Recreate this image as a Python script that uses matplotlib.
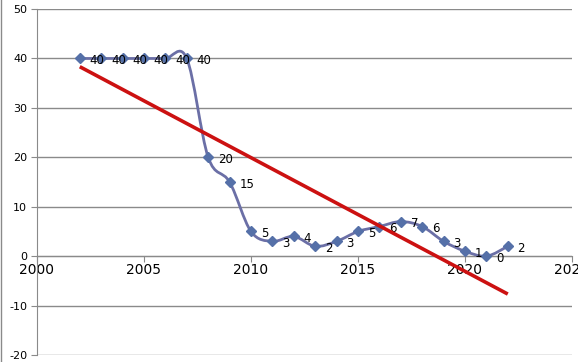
import numpy as np
import matplotlib
matplotlib.use("Agg")
import matplotlib.pyplot as plt
from matplotlib.path import Path
from matplotlib.patches import PathPatch
from matplotlib.lines import Line2D

# ==============================
# DATA
# ==============================
years = [2002, 2003, 2004, 2005, 2006, 2007, 2008, 2009, 2010, 2011, 2012,
         2013, 2014, 2015, 2016, 2017, 2018, 2019, 2020, 2021, 2022]
values = [40, 40, 40, 40, 40, 40, 20, 15, 5, 3, 4,
          2, 3, 5, 6, 7, 6, 3, 1, 0, 2]
x_ticks = [2000, 2005, 2010, 2015, 2020, 2025]
y_ticks = [-20, -10, 0, 10, 20, 30, 40, 50]

line_col = "#6b6fa6"
marker_col = "#5570a8"
trend_col = "#cc1111"
grid_col = "#8a8a8a"

x = np.array(years, dtype=float)
y = np.array(values, dtype=float)

fig = plt.figure(figsize=(5.78, 3.62), dpi=100)
ax = fig.add_axes([0.064, 0.0193, 0.9256, 0.9557])
ax.set_xlim(2000, 2025)
ax.set_ylim(-20, 50)

# ==============================
# SMOOTH LINE (bezier, excel-like smoothing)
# ==============================
verts = [(x[0], y[0])]
codes = [Path.MOVETO]
n = len(x)
for i in range(n - 1):
    p0 = (x[i - 1], y[i - 1]) if i > 0 else (x[i], y[i])
    p1 = (x[i], y[i])
    p2 = (x[i + 1], y[i + 1])
    p3 = (x[i + 2], y[i + 2]) if i + 2 < n else (x[i + 1], y[i + 1])
    c1 = (p1[0] + (p2[0] - p0[0]) / 6, p1[1] + (p2[1] - p0[1]) / 6)
    c2 = (p2[0] - (p3[0] - p1[0]) / 6, p2[1] - (p3[1] - p1[1]) / 6)
    verts += [c1, c2, p2]
    codes += [Path.CURVE4] * 3
ax.add_patch(PathPatch(Path(verts, codes), facecolor="none", edgecolor=line_col,
                       lw=2, zorder=3))
ax.plot(x, y, ls="none", marker="D", ms=4.8, color=marker_col, zorder=4)

for xi, yi in zip(years, values):
    ax.annotate(str(yi), (xi, yi), xytext=(7, -1.5), textcoords="offset points",
                ha="left", va="center", fontsize=8.5, family="DejaVu Sans",
                color="black", zorder=5)

# ==============================
# TREND LINE
# ==============================
k, b = np.polyfit(x, y, 1)
ax.plot([x[0], x[-1]], [k * x[0] + b, k * x[-1] + b], color=trend_col, lw=2.6,
        zorder=6, solid_capstyle="butt")

# ==============================
# AXES STYLE
# ==============================
ax.set_xticks(x_ticks)
ax.set_yticks(y_ticks)
ax.set_xticklabels([str(t) for t in x_ticks], family="DejaVu Sans", fontsize=8)
ax.set_yticklabels([str(t) for t in y_ticks], family="DejaVu Sans", fontsize=8)
ax.yaxis.grid(True, color=grid_col, lw=1)
ax.set_axisbelow(True)
for s in ["top", "right"]:
    ax.spines[s].set_visible(False)
ax.spines["bottom"].set_position(("data", 0))
ax.spines["bottom"].set_color(grid_col)
ax.spines["left"].set_color(grid_col)
ax.tick_params(axis="x", direction="out", length=4, color=grid_col, pad=1)
ax.tick_params(axis="y", direction="out", length=4, color=grid_col, pad=3)

fig.add_artist(Line2D([0.001, 0.001], [0, 1], transform=fig.transFigure,
                      color=grid_col, lw=1))

fig.savefig("out.png", dpi=100)
